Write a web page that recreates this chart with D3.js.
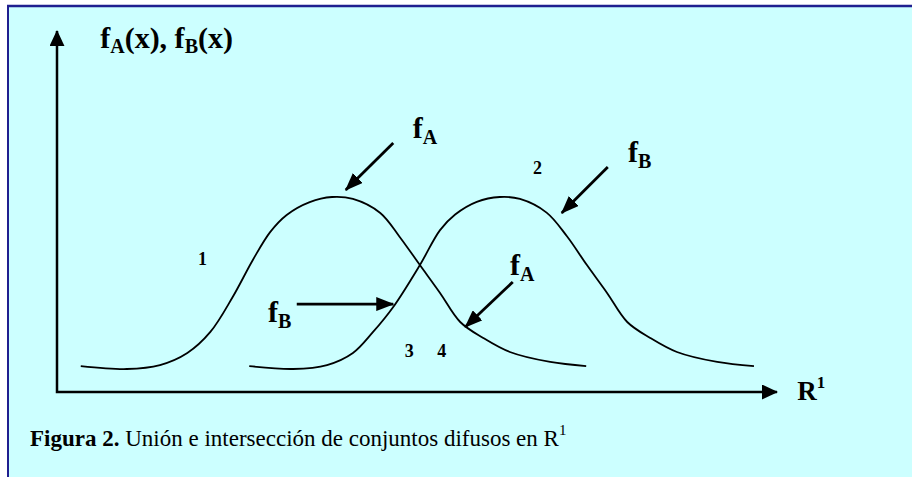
<!DOCTYPE html>
<html>
<head>
<meta charset="utf-8">
<script src="https://cdn.jsdelivr.net/npm/d3@7"></script>
<style>
  body { margin: 0; background: #ffffff; }
  text { font-family: "Liberation Serif", "Times New Roman", serif; fill: #000; }
</style>
</head>
<body>
<script>
// Curve A (f_A): x in R^1 units, membership value
var curveA = [
  [3.3, 0.133], [9.7, 0.118], [14.3, 0.138], [18.1, 0.20], [21.3, 0.308],
  [24.4, 0.487], [27.2, 0.677], [29.6, 0.82], [31.9, 0.908], [35.1, 0.974],
  [38.2, 1.0], [41.1, 0.99], [44.9, 0.918], [47.6, 0.795], [50.4, 0.651],
  [53.2, 0.508], [56.0, 0.359], [59.2, 0.277], [62.9, 0.205], [68.5, 0.154],
  [73.5, 0.133]
];
// Curve B (f_B)
var curveB = [
  [26.7, 0.133], [32.8, 0.118], [37.5, 0.138], [41.1, 0.20], [43.9, 0.308],
  [46.7, 0.436], [50.4, 0.651], [53.2, 0.83], [55.3, 0.91], [58.3, 0.975],
  [61.5, 1.0], [64.3, 0.99], [68.0, 0.92], [70.8, 0.80], [73.6, 0.651],
  [76.4, 0.508], [79.2, 0.359], [82.4, 0.277], [86.1, 0.205], [91.7, 0.154],
  [96.8, 0.133]
];

// annotation arrows: [x1, y1, x2, y2]
var arrows = [
  [46.7, 1.277, 40.1, 1.036],
  [33.3, 0.451, 46.7, 0.451],
  [76.5, 1.154, 70.1, 0.918],
  [63.3, 0.564, 56.7, 0.333]
];
// labels f with subscript: [x, y, subscript]
var fLabels = [
  [49.4, 1.303, "A"],
  [79.3, 1.179, "B"],
  [62.9, 0.60, "A"],
  [29.3, 0.359, "B"]
];
// region numbers
var regions = [
  [19.6, 0.651, "1"],
  [66.1, 1.118, "2"],
  [48.3, 0.179, "3"],
  [52.8, 0.179, "4"]
];
var xAxisEnd = 100, yAxisEnd = 1.856;

var width = 912, height = 477;

var svg = d3.select("body").append("svg")
    .attr("width", width)
    .attr("height", height);

// Panel background and border
svg.append("rect")
    .attr("x", 8).attr("y", 6)
    .attr("width", width - 8).attr("height", height - 6)
    .attr("fill", "#ccffff");
svg.append("line")
    .attr("x1", 7).attr("x2", width)
    .attr("y1", 6).attr("y2", 6)
    .attr("stroke", "#1f1f8f").attr("stroke-width", 2.5);
svg.append("line")
    .attr("x1", 8).attr("x2", 8)
    .attr("y1", 5).attr("y2", height)
    .attr("stroke", "#1f1f8f").attr("stroke-width", 2);

var x = d3.scaleLinear().domain([0, 100]).range([57, 777]);
var y = d3.scaleLinear().domain([0, 1]).range([392, 197]);

// Arrow markers
var defs = svg.append("defs");
defs.append("marker")
    .attr("id", "head")
    .attr("markerUnits", "userSpaceOnUse")
    .attr("markerWidth", 18).attr("markerHeight", 14)
    .attr("refX", 17).attr("refY", 7)
    .attr("orient", "auto")
    .attr("viewBox", "0 0 18 14")
    .append("path")
        .attr("d", "M0,0 L18,7 L0,14 Z")
        .attr("fill", "#000");
defs.append("marker")
    .attr("id", "axisHead")
    .attr("markerUnits", "userSpaceOnUse")
    .attr("markerWidth", 16).attr("markerHeight", 15)
    .attr("refX", 15).attr("refY", 7.5)
    .attr("orient", "auto")
    .attr("viewBox", "0 0 16 15")
    .append("path")
        .attr("d", "M0,0 L16,7.5 L0,15 Z")
        .attr("fill", "#000");
defs.append("marker")
    .attr("id", "axisHeadStart")
    .attr("markerUnits", "userSpaceOnUse")
    .attr("markerWidth", 16).attr("markerHeight", 15)
    .attr("refX", 15).attr("refY", 7.5)
    .attr("orient", "auto-start-reverse")
    .attr("viewBox", "0 0 16 15")
    .append("path")
        .attr("d", "M0,0 L16,7.5 L0,15 Z")
        .attr("fill", "#000");

// Axes
svg.append("path")
    .attr("d", d3.line()([[x(0), y(yAxisEnd) + 1], [x(0), y(0)], [x(xAxisEnd), y(0)]]))
    .attr("fill", "none")
    .attr("stroke", "#000")
    .attr("stroke-width", 2.5)
    .attr("marker-end", "url(#axisHead)")
    .attr("marker-start", "url(#axisHeadStart)");

// Curves
var line = d3.line()
    .x(d => x(d[0]))
    .y(d => y(d[1]))
    .curve(d3.curveCatmullRom.alpha(0.5));

svg.append("g")
    .selectAll("path")
    .data([curveA, curveB])
    .join("path")
        .attr("d", line)
        .attr("fill", "none")
        .attr("stroke", "#000")
        .attr("stroke-width", 1.8);

// Annotation arrows
svg.append("g")
    .selectAll("line")
    .data(arrows)
    .join("line")
        .attr("x1", d => x(d[0]))
        .attr("y1", d => y(d[1]))
        .attr("x2", d => x(d[2]))
        .attr("y2", d => y(d[3]))
        .attr("stroke", "#000")
        .attr("stroke-width", 2.8)
        .attr("marker-end", "url(#head)");

// f labels
var fl = svg.append("g")
    .selectAll("text")
    .data(fLabels)
    .join("text")
        .attr("x", d => x(d[0]))
        .attr("y", d => y(d[1]))
        .attr("font-weight", "bold")
        .attr("font-size", 30);
fl.append("tspan").text("f");
fl.append("tspan")
    .attr("font-size", 20)
    .attr("dy", 6)
    .text(d => d[2]);

// Region numbers
svg.append("g")
    .selectAll("text")
    .data(regions)
    .join("text")
        .attr("x", d => x(d[0]))
        .attr("y", d => y(d[1]))
        .attr("font-weight", "bold")
        .attr("font-size", 18)
        .text(d => d[2]);

// Y axis title
var title = svg.append("text")
    .attr("x", x(6.0))
    .attr("y", y(1.764))
    .attr("font-weight", "bold")
    .attr("font-size", 30);
title.append("tspan").text("f");
title.append("tspan").attr("font-size", 20).attr("dy", 5).text("A");
title.append("tspan").attr("dy", -5).text("(x), f");
title.append("tspan").attr("font-size", 20).attr("dy", 5).text("B");
title.append("tspan").attr("dy", -5).text("(x)");

// X axis label
var rl = svg.append("text")
    .attr("x", x(102.8))
    .attr("y", y(-0.041))
    .attr("font-weight", "bold")
    .attr("font-size", 27);
rl.append("tspan").text("R");
rl.append("tspan").attr("font-size", 17).attr("dy", -12).text("1");

// Caption
var cap = svg.append("text")
    .attr("x", 30)
    .attr("y", 446)
    .attr("font-size", 23);
cap.append("tspan").attr("font-weight", "bold").text("Figura 2.");
cap.append("tspan").text(" Unión e intersección de conjuntos difusos en R");
cap.append("tspan").attr("font-size", 15).attr("dy", -11).text("1");
</script>
</body>
</html>
